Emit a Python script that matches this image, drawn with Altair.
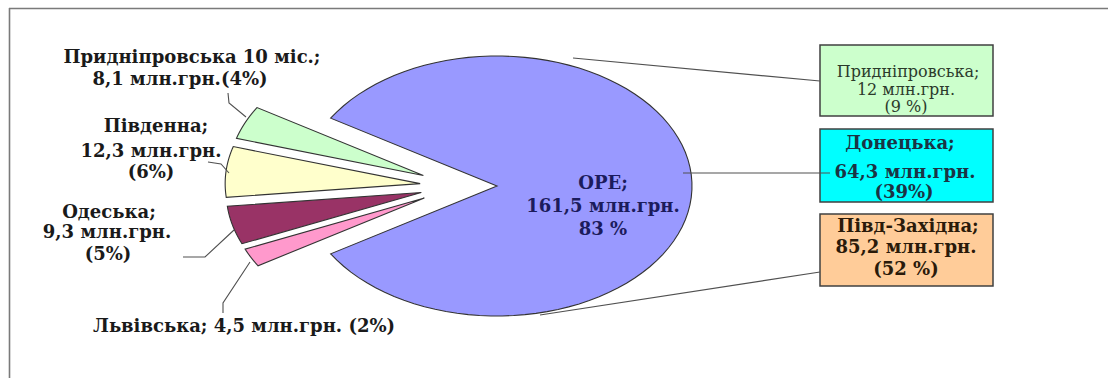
import altair as alt
import pandas as pd

# ---------------- data ----------------
slice_names = ["Придніпровська 10 міс.", "Південна", "Одеська", "Львівська", "ОРЕ"]
slice_values = [8.1, 12.3, 9.3, 4.5, 161.5]
slice_colors = ["#CCFFCC", "#FFFFCC", "#993366", "#FF99CC", "#9999FF"]

left_lines = ["Придніпровська 10 міс.;", "8,1 млн.грн.(4%)", "Південна;", "12,3 млн.грн.", "(6%)",
              "Одеська;", "9,3 млн.грн.", "(5%)", "Львівська; 4,5 млн.грн. (2%)"]
center_lines = ["ОРЕ;", "161,5 млн.грн.", "83 %"]

box_names = ["Придніпровська", "Донецька", "Півд-Західна"]
box_colors = ["#CCFFCC", "#00FFFF", "#FFCC99"]
box_lines = [["Придніпровська;", "12 млн.грн.", "(9 %)"],
             ["Донецька;", "64,3 млн.грн.", "(39%)"],
             ["Півд-Західна;", "85,2 млн.грн.", "(52 %)"]]

# ---------------- layout (page pixels) ----------------
W, H = 1099, 370
PADL, PADT = 9, 8
CX, CY, RX, RY = 497, 186, 195, 130
SHIFT, EXPL, N = 38, 0.2, 90

xs = alt.Scale(domain=[PADL, PADL + W], nice=False, zero=False)
ys = alt.Scale(domain=[PADT, PADT + H], nice=False, zero=False, reverse=True)
X = lambda f="px": alt.X(f + ":Q", scale=xs, axis=None)
Y = lambda f="py": alt.Y(f + ":Q", scale=ys, axis=None)
X2 = lambda f="px2": alt.X2(f + ":Q")
Y2 = lambda f="py2": alt.Y2(f + ":Q")

FONT = "DejaVu Serif"

# ---------------- pie slices ----------------
pie_df = pd.DataFrame({"name": slice_names, "value": slice_values,
                       "color": slice_colors, "k": list(range(len(slice_names)))})
pie = alt.Chart(pie_df).transform_joinaggregate(
    total="sum(value)", main="max(value)"
).transform_window(
    cum="sum(value)", sort=[alt.SortField("k")], frame=[None, 0]
).transform_calculate(
    a0="PI - PI*(datum.total - datum.main)/datum.total + 2*PI*(datum.cum - datum.value)/datum.total",
    a1="PI - PI*(datum.total - datum.main)/datum.total + 2*PI*datum.cum/datum.total",
    ex="datum.value < datum.main ? 1 : 0",
    idx=f"sequence(0, {N + 1})",
).transform_calculate(
    mid="(datum.a0 + datum.a1)/2",
).transform_calculate(
    ox=f"datum.ex * (-{SHIFT} + {EXPL}*{RX}*cos(datum.mid))",
    oy=f"datum.ex * (-{EXPL}*{RY}*sin(datum.mid))",
).transform_flatten(["idx"]).transform_calculate(
    t=f"datum.a0 + (datum.a1 - datum.a0)*(datum.idx - 1)/({N}-1)",
).transform_calculate(
    px=f"datum.idx == 0 ? {CX} + datum.ox : {CX} + datum.ox + {RX}*cos(datum.t)",
    py=f"datum.idx == 0 ? {CY} + datum.oy : {CY} + datum.oy - {RY}*sin(datum.t)",
).mark_line(interpolate="linear-closed", stroke="#333333", strokeWidth=1.1).encode(
    x=X(), y=Y(),
    fill=alt.Fill("color:N", scale=None, legend=None),
    detail="name:N",
    order=alt.Order("idx:Q"),
)

# ---------------- frame ----------------
frame_df = pd.DataFrame({"px": [PADL, PADL + 0.5], "py": [PADT + 0.5, PADT],
                         "px2": [PADL + W, PADL + 0.5], "py2": [PADT + 0.5, PADT + H]})
frame = alt.Chart(frame_df).mark_rule(color="#7a7a7a", strokeWidth=1.6).encode(
    x=X(), y=Y(), x2=X2(), y2=Y2())

# ---------------- boxes ----------------
box_df = pd.DataFrame({"name": box_names, "color": box_colors,
                       "px": [820] * 3, "px2": [993] * 3,
                       "py": [45, 129, 214], "py2": [116, 202, 286]})
boxes = alt.Chart(box_df).mark_rect(stroke="#404040", strokeWidth=1.5).encode(
    x=X(), x2=X2(), y=Y(), y2=Y2(),
    fill=alt.Fill("color:N", scale=None, legend=None))

conn_df = pd.DataFrame({"px": [573, 683, 540], "py": [58, 173, 315],
                        "px2": [820, 830, 820], "py2": [81, 173, 272]})
conns = alt.Chart(conn_df).mark_rule(color="#505050", strokeWidth=1.2).encode(
    x=X(), y=Y(), x2=X2(), y2=Y2())

# ---------------- leader lines ----------------
lead_id = [0, 0, 0, 1, 1, 1, 2, 2, 2, 3, 3, 3]
lead_ord = [0, 1, 2] * 4
lead_x = [228, 229, 246, 208, 221, 229, 183, 205, 234, 223, 223, 250]
lead_y = [93, 103, 117, 162, 164, 173, 257, 257, 230, 313, 303, 262]
lead_df = pd.DataFrame({"g": lead_id, "o": lead_ord, "px": lead_x, "py": lead_y})
leaders = alt.Chart(lead_df).mark_line(color="#505050", strokeWidth=1.1).encode(
    x=X(), y=Y(), detail="g:N", order="o:Q")

# ---------------- texts ----------------
left_df = pd.DataFrame({"t": left_lines,
                        "px": [192, 180, 156, 151, 151, 109, 107, 108, 244],
                        "py": [58, 80, 127, 152, 173, 213, 233, 255, 327]})
left_txt = alt.Chart(left_df).mark_text(font=FONT, fontWeight="bold", fontSize=18,
                                        color="#1a1a1a", baseline="middle").encode(
    x=X(), y=Y(), text="t:N")

center_df = pd.DataFrame({"t": center_lines, "px": [603] * 3, "py": [184, 207, 230]})
center_txt = alt.Chart(center_df).mark_text(font=FONT, fontWeight="bold", fontSize=18,
                                            color="#1C1C5C", baseline="middle").encode(
    x=X(), y=Y(), text="t:N")

b1_df = pd.DataFrame({"t": box_lines[0], "px": [908, 906, 906], "py": [72, 90, 107]})
b1_txt = alt.Chart(b1_df).mark_text(font=FONT, fontSize=16, color="#2b3a2b",
                                    baseline="middle").encode(x=X(), y=Y(), text="t:N")
b2_df = pd.DataFrame({"t": box_lines[1], "px": [900, 905, 904], "py": [144, 173, 193]})
b2_txt = alt.Chart(b2_df).mark_text(font=FONT, fontWeight="bold", fontSize=18, color="#1b3344",
                                    baseline="middle").encode(x=X(), y=Y(), text="t:N")
b3_df = pd.DataFrame({"t": box_lines[2], "px": [908, 906, 906], "py": [227, 248, 270]})
b3_txt = alt.Chart(b3_df).mark_text(font=FONT, fontWeight="bold", fontSize=18, color="#2a1a0a",
                                    baseline="middle").encode(x=X(), y=Y(), text="t:N")

chart = alt.layer(frame, pie, boxes, conns, leaders, left_txt, center_txt,
                  b1_txt, b2_txt, b3_txt).properties(
    width=W, height=H,
    padding={"left": PADL, "top": PADT, "right": 0, "bottom": 0},
    autosize=alt.AutoSizeParams(type="none"),
    background="white",
).configure_view(stroke=None)

chart.save("out.html", embed_options={"renderer": "svg", "actions": False})
